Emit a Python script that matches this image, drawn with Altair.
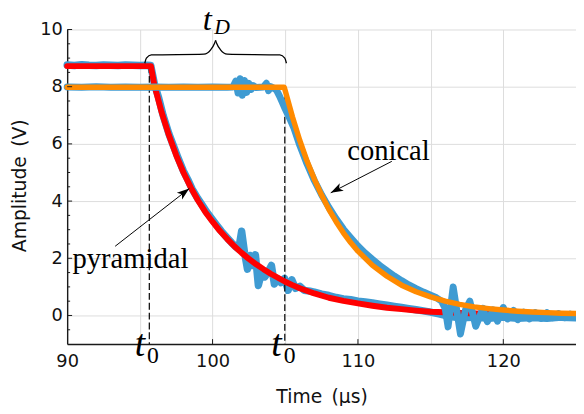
import altair as alt
import pandas as pd

# ---------------- data ----------------
# measured signal, pyramidal antenna (blue)
pyr_signal_t = [90.0, 90.5, 91.0, 91.5, 92.0, 92.5, 93.0, 93.5, 94.0, 94.5, 95.0, 95.5, 95.75,
                96.0, 96.3, 96.6, 97.0, 97.3, 97.6, 98.0, 98.3, 98.6, 99.0, 99.3, 99.6, 100.0,
                100.3, 100.6, 101.0, 101.3, 101.6, 101.8, 102.0, 102.2, 102.4, 102.6, 102.8,
                102.95, 103.15, 103.4, 103.6, 103.85, 104.05, 104.25, 104.45, 104.7,
                104.95, 105.2, 105.45, 105.7, 106.0, 106.3, 106.7, 107.0, 107.5, 108.0, 108.5,
                109.0, 109.5, 110.0, 110.5, 111.0, 111.5, 112.0, 112.5, 113.0, 113.5, 114.0,
                114.5, 115.0, 115.5, 116.0, 116.5, 117.0, 118.0, 119.0, 120.0, 121.0, 122.0,
                123.0, 124.0, 125.0]
pyr_signal_v = [8.76, 8.74, 8.77, 8.75, 8.74, 8.76, 8.75, 8.74, 8.76, 8.75, 8.74, 8.75, 8.74,
                8.1, 7.6, 7.0, 6.35, 5.95, 5.55, 5.05, 4.75, 4.42, 4.08, 3.85, 3.62, 3.35,
                3.15, 2.95, 2.72, 2.55, 2.4, 2.32, 2.95, 2.2, 1.62, 2.1, 1.75,
                2.12, 1.05, 1.55, 1.35, 1.55, 1.75, 1.1, 1.3, 1.15,
                1.3, 0.88, 1.25, 0.95, 1.02, 0.88, 0.85, 0.82, 0.75, 0.7, 0.63,
                0.58, 0.55, 0.5, 0.47, 0.44, 0.4, 0.36, 0.32, 0.28, 0.24, 0.2,
                0.16, 0.12, 0.06, 0.0, -0.05, -0.08, -0.06, -0.1, -0.06, -0.1, -0.07,
                -0.1, -0.06, -0.08]

# measured signal, conical antenna (blue)
con_signal_t = [90.0, 91.0, 92.0, 93.0, 94.0, 95.0, 96.0, 97.0, 98.0, 99.0, 100.0, 101.0,
                101.4, 101.6, 101.75, 101.9, 102.05, 102.2, 102.35, 102.5, 102.65, 102.8,
                103.0, 103.5, 103.7, 103.85, 104.0, 104.2, 104.4, 104.6, 104.8, 105.0,
                105.3, 105.6, 106.0, 106.5, 107.0, 107.5, 108.0, 108.5, 109.0, 109.5,
                110.0, 110.5, 111.0, 111.5, 112.0, 112.5, 113.0, 113.5, 114.0, 114.5,
                115.0, 115.4, 115.75, 116.0, 116.2, 116.55, 117.05, 117.4, 117.7, 118.1,
                118.6, 118.9, 119.3, 119.6, 120.0, 120.3, 120.7, 121.0, 121.4, 121.8,
                122.2, 122.6, 123.0, 123.4, 123.8, 124.2, 124.6, 125.0]
con_signal_v = [7.99, 7.98, 8.0, 7.98, 7.99, 7.98, 7.99, 7.98, 7.99, 7.98, 7.99, 7.98,
                7.99, 8.2, 7.78, 8.28, 7.7, 8.22, 7.8, 8.12, 7.9, 8.04,
                7.97, 7.99, 8.12, 7.86, 8.0, 7.95, 7.88, 7.68, 7.45, 7.22,
                6.9, 6.55, 5.95, 5.3, 4.72, 4.22, 3.78, 3.38, 3.02, 2.72,
                2.43, 2.18, 1.96, 1.75, 1.56, 1.38, 1.22, 1.07, 0.94, 0.82,
                0.71, 0.62, 0.5, 0.25, -0.4, 1.0, -0.65, 0.2, 0.5, -0.38,
                0.25, -0.22, 0.2, -0.2, 0.28, -0.12, 0.18, -0.15, 0.12, -0.12,
                0.1, -0.1, 0.1, -0.08, 0.07, -0.08, 0.05, -0.05]

# fitted curve, pyramidal (red)
pyr_fit_t = [90.0, 95.76, 96.0, 96.5, 97.0, 97.5, 98.0, 98.5, 99.0, 99.5, 100.0, 100.5,
             101.0, 101.5, 102.0, 102.5, 103.0, 103.5, 104.0, 104.5, 105.0, 105.5, 106.0,
             107.0, 108.0, 109.0, 110.0, 111.0, 112.0, 113.0, 114.0, 115.0, 116.0, 117.0,
             118.0, 119.0, 120.0]
pyr_fit_v = [8.72, 8.72, 8.05, 7.1, 6.3, 5.6, 5.0, 4.48, 4.02, 3.62, 3.28, 2.96,
             2.68, 2.42, 2.19, 1.98, 1.79, 1.62, 1.46, 1.32, 1.18, 1.06, 0.95,
             0.77, 0.62, 0.51, 0.42, 0.34, 0.27, 0.22, 0.17, 0.13, 0.11, 0.09,
             0.07, 0.06, 0.05]

# fitted curve, conical (orange)
con_fit_t = [90.0, 104.93, 105.0, 105.5, 106.0, 106.5, 107.0, 107.5, 108.0, 108.5, 109.0,
             109.5, 110.0, 111.0, 112.0, 113.0, 114.0, 115.0, 116.0, 117.0, 118.0, 119.0,
             120.0, 121.0, 122.0, 123.0, 124.0, 125.0]
con_fit_v = [7.98, 7.98, 7.86, 6.94, 6.12, 5.40, 4.77, 4.21, 3.71, 3.28, 2.89,
             2.55, 2.25, 1.75, 1.37, 1.06, 0.83, 0.65, 0.50, 0.39, 0.30, 0.24,
             0.19, 0.15, 0.12, 0.10, 0.08, 0.07]

# axis values
x_grid = [90, 95, 100, 105, 110, 115, 120, 125]
x_ticks = [100, 110, 120]
y_grid = [0, 2, 4, 6, 8, 10]
y_minor = [-0.5, 0.5, 1, 1.5, 2.5, 3, 3.5, 4.5, 5, 5.5, 6.5, 7, 7.5, 8.5, 9, 9.5]

# t0 markers
t0_values = [95.65, 104.97]
t0_top = [8.72, 7.98]
t0_bottom = [-1, -1]

# brace over t_D (two halves)
brace_t = [95.34, 95.45, 95.79, 99.41, 99.87, 100.14, 100.21,
           100.21, 100.28, 100.55, 101.01, 104.63, 104.97, 105.08]
brace_v = [8.82, 9.0, 9.11, 9.14, 9.29, 9.52, 9.62,
           9.62, 9.52, 9.29, 9.14, 9.11, 9.0, 8.82]
brace_g = ["a"] * 7 + ["b"] * 7

# labels
lab_text = ["conical", "pyramidal"]
lab_t = [112.1, 94.35]
lab_v = [5.45, 1.67]

# arrows
arr_t1 = [112.33, 93.3]
arr_v1 = [5.39, 2.42]
arr_t2 = [108.13, 98.4]
arr_v2 = [4.29, 4.44]
arr_angle = [242, 52]

# ---------------- chart ----------------
W, H = 516, 319
BLUE = "#3f9bd2"
RED = "#ff0000"
ORANGE = "#ff8a00"
SERIF = "Liberation Serif"
SANS = "DejaVu Sans"

xs = alt.Scale(domain=[90, 125], nice=False, zero=False)
ys = alt.Scale(domain=[-1, 10], nice=False, zero=False)

X_TITLE = "Time\u2002(μs)"
Y_TITLE = "Amplitude\u2002(V)"

x_axis = alt.Axis(values=x_grid, labelExpr="datum.value % 10 === 0 ? datum.label : ''",
                  title=X_TITLE, titleY=59, titleBaseline="alphabetic",
                  labelPadding=9, labelFlush=False)
y_axis = alt.Axis(values=y_grid, title=Y_TITLE,
                  titleBaseline="alphabetic", titleX=-42, titleY=158, titleAngle=270,
                  labelPadding=5, labelFlush=False)


def X(field, axis=None):
    if axis is not None:
        return alt.X(field, scale=xs, axis=axis)
    return alt.X(field, scale=xs, title=X_TITLE)


def Y(field, axis=None):
    if axis is not None:
        return alt.Y(field, scale=ys, axis=axis)
    return alt.Y(field, scale=ys, title=Y_TITLE)


def frame(t, v):
    return pd.DataFrame({"t": t, "v": v, "i": list(range(len(t)))})


def line(df, color, width, axes=False):
    return alt.Chart(df).mark_line(color=color, strokeWidth=width, strokeJoin="round",
                                   strokeCap="round").encode(
        x=X("t:Q", x_axis if axes else None),
        y=Y("v:Q", y_axis if axes else None),
        order="i:Q",
    )


blue_pyr = line(frame(pyr_signal_t, pyr_signal_v), BLUE, 7.5, axes=True)
blue_con = line(frame(con_signal_t, con_signal_v), BLUE, 7)
red_fit = line(frame(pyr_fit_t, pyr_fit_v), RED, 6)
orange_fit = line(frame(con_fit_t, con_fit_v), ORANGE, 5.5)

dashes = alt.Chart(pd.DataFrame({"t": t0_values, "v": t0_top, "v2": t0_bottom})).mark_rule(
    color="black", strokeWidth=1.2, strokeDash=[7, 3]).encode(
    x=X("t:Q"), y=Y("v:Q"), y2="v2:Q")

y_minor_ticks = alt.Chart(pd.DataFrame({"v": y_minor})).mark_rule(
    color="#1a1a1a", strokeWidth=1).encode(
    y=Y("v:Q"), x=alt.value(0), x2=alt.value(3))
y_major_ticks = alt.Chart(pd.DataFrame({"v": y_grid})).mark_rule(
    color="#1a1a1a", strokeWidth=1).encode(
    y=Y("v:Q"), x=alt.value(0), x2=alt.value(5))
x_major_ticks = alt.Chart(pd.DataFrame({"t": x_ticks})).mark_rule(
    color="#1a1a1a", strokeWidth=1).encode(
    x=X("t:Q"), y=alt.value(H), y2=alt.value(H - 5))

brace = alt.Chart(pd.DataFrame({"t": brace_t, "v": brace_v, "g": brace_g,
                                "i": list(range(len(brace_t)))})).mark_line(
    color="black", strokeWidth=1.3, interpolate="monotone").encode(
    x=X("t:Q"), y=Y("v:Q"), detail="g:N", order="i:Q")

tD_t = alt.Chart(pd.DataFrame({"t": [99.64], "v": [10.0], "s": ["t"]})).mark_text(
    font=SERIF, fontStyle="italic", fontSize=33, align="center", baseline="alphabetic",
    color="black").encode(x=X("t:Q"), y=Y("v:Q"), text="s:N")
tD_D = alt.Chart(pd.DataFrame({"t": [100.12], "v": [9.83], "s": ["D"]})).mark_text(
    font=SERIF, fontStyle="italic", fontSize=22, align="left", baseline="alphabetic",
    color="black").encode(x=X("t:Q"), y=Y("v:Q"), text="s:N")

t0_t = alt.Chart(pd.DataFrame({"t": [95.0, 104.39], "v": [-1.43, -1.43], "s": ["t", "t"]})).mark_text(
    font=SERIF, fontStyle="italic", fontSize=38, align="center", baseline="alphabetic",
    color="black").encode(x=X("t:Q"), y=Y("v:Q"), text="s:N")
t0_0 = alt.Chart(pd.DataFrame({"t": [95.9, 105.31], "v": [-1.67, -1.67], "s": ["0", "0"]})).mark_text(
    font=SERIF, fontSize=24, align="center", baseline="alphabetic",
    color="black").encode(x=X("t:Q"), y=Y("v:Q"), text="s:N")

labels = alt.Chart(pd.DataFrame({"t": lab_t, "v": lab_v, "s": lab_text})).mark_text(
    font=SERIF, fontSize=29, align="center", baseline="alphabetic", color="black").encode(
    x=X("t:Q"), y=Y("v:Q"), text="s:N")

arrow_df = pd.DataFrame({"t": arr_t1, "v": arr_v1, "t2": arr_t2, "v2": arr_v2, "a": arr_angle})
arrow_lines = alt.Chart(arrow_df).mark_rule(color="black", strokeWidth=1).encode(
    x=X("t:Q"), y=Y("v:Q"), x2="t2:Q", y2="v2:Q")
arrow_heads = alt.Chart(arrow_df).mark_point(
    shape="M0,0L-0.55,1.6L0,1.2L0.55,1.6Z", filled=True, color="black", opacity=1,
    size=250, strokeWidth=0).encode(
    x=X("t2:Q"), y=Y("v2:Q"), angle=alt.Angle("a:Q", scale=None))

chart = alt.layer(
    blue_pyr, dashes, red_fit, blue_con, orange_fit,
    y_minor_ticks, y_major_ticks, x_major_ticks,
    brace, tD_t, tD_D, t0_t, t0_0, labels, arrow_lines, arrow_heads,
).properties(
    width=W, height=H,
    autosize=alt.AutoSizeParams(type="none"),
    padding={"left": 60, "top": 19, "right": 0, "bottom": 60},
).configure_view(stroke=None).configure_axis(
    grid=True, gridColor="#dcdcdc", gridWidth=1, ticks=False,
    domainColor="#1a1a1a", domainWidth=1.4,
    labelFont=SANS, labelFontSize=18, labelColor="#111",
    titleFont=SANS, titleFontSize=19, titleFontWeight="normal", titleColor="#111",
)

chart.save("out.html", embed_options={"renderer": "svg", "actions": False})
